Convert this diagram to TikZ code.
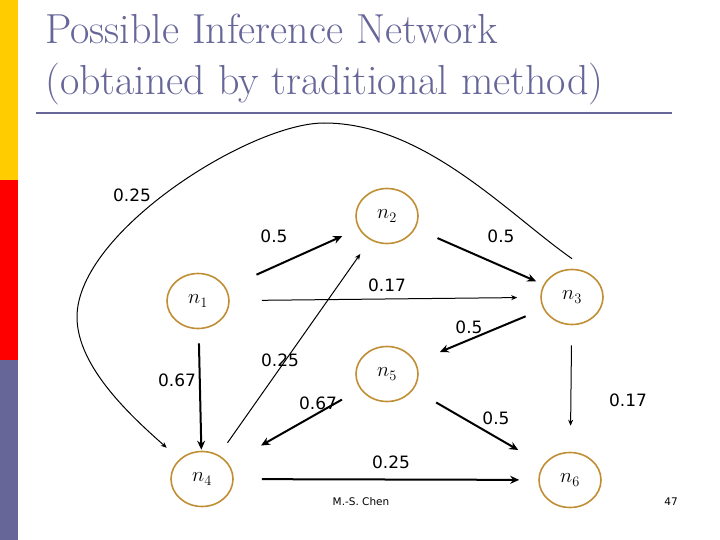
\documentclass[tikz,border=0pt]{standalone}
\usepackage{fontspec}
\newfontfamily\labelfont{DejaVu Sans}
\usetikzlibrary{arrows.meta}
\usetikzlibrary{shapes.geometric}
\definecolor{slate}{RGB}{102,102,153}
\definecolor{sideyellow}{RGB}{255,204,0}
\definecolor{sidered}{RGB}{255,0,0}
\definecolor{ringbrown}{RGB}{192,142,52}

\begin{document}
\begin{tikzpicture}[x=1pt,y=-1pt,
        state/.style={draw=ringbrown, line width=1.6pt, ellipse, minimum width=62pt, minimum height=55pt, inner sep=0pt, font=\fontsize{21}{21}\selectfont},
        weight/.style={font=\labelfont\fontsize{17}{17}\selectfont, inner sep=0pt},
        heavy/.style={black, line width=2pt, -{Stealth[length=9pt,width=8pt]}},
        light/.style={black, line width=1pt, -{Stealth[length=6pt,width=5pt]}}]
        \useasboundingbox (0,0) rectangle (720,540);
        % side bar and title
        \fill[sideyellow] (0,0) rectangle (18,180);
        \fill[sidered] (0,180) rectangle (18,360);
        \fill[slate] (0,360) rectangle (18,540);
        \node[anchor=base west, inner sep=0pt, text=slate, font=\fontsize{42}{42}\selectfont] (title1) at (45,44) {Possible Inference Network};
        \node[anchor=base west, inner sep=0pt, text=slate, font=\fontsize{42}{42}\selectfont] (title2) at (45,95) {(obtained by traditional method)};
        \draw[slate, line width=2pt] (36,113) -- (672,113);
        % nodes
        \node[state] (n1) at (198,301) {$n_1$};
        \node[state] (n2) at (387,216) {$n_2$};
        \node[state] (n3) at (572,297) {$n_3$};
        \node[state] (n4) at (202,479) {$n_4$};
        \node[state] (n5) at (387,374) {$n_5$};
        \node[state] (n6) at (570,480) {$n_6$};
        % edges
        \draw[heavy, shorten <=33pt, shorten >=18pt] (n1) -- (n2);
        \draw[heavy, shorten <=24pt, shorten >=8pt] (n2) -- (n3);
        \draw[light, shorten <=32pt, shorten >=23pt] (n1) -- (n3);
        \draw[heavy, shorten <=19pt, shorten >=26pt] (n3) -- (n5);
        \draw[heavy, shorten <=14pt, shorten >=1pt] (n1) -- (n4);
        \draw[light, shorten <=15pt, shorten >=17pt] (n4) -- (n2);
        \draw[heavy, shorten <=21pt, shorten >=37pt] (n5) -- (n4);
        \draw[heavy, shorten <=26pt, shorten >=29pt] (n5) -- (n6);
        \draw[light, shorten <=20pt, shorten >=26pt] (n3) -- (n6);
        \draw[heavy, shorten <=28pt, shorten >=19pt] (n4) -- (n6);
        \draw[light, shorten >=17pt] ([yshift=10pt]n3.north) .. controls (507,213) and (424,123) .. (324,123)
            .. controls (250,123) and (77,232) .. (77,317) .. controls (77,367) and (132,417) .. (n4);
        % weights
        \node[weight] (w34) at (132,195) {0.25};
        \node[weight] (w12) at (274,236) {0.5};
        \node[weight] (w23) at (501,236) {0.5};
        \node[weight] (w13) at (387,285) {0.17};
        \node[weight] (w35) at (469,327) {0.5};
        \node[weight] (w14) at (177,380) {0.67};
        \node[weight] (w42) at (280,360) {0.25};
        \node[weight] (w54) at (318,403) {0.67};
        \node[weight] (w56) at (496,418) {0.5};
        \node[weight] (w36) at (628,400) {0.17};
        \node[weight] (w46) at (391,462) {0.25};
        % footer
        \node[inner sep=0pt, font=\labelfont\fontsize{10.5}{10.5}\selectfont] (author) at (361,502) {M.-S. Chen};
        \node[inner sep=0pt, font=\labelfont\fontsize{10.5}{10.5}\selectfont] (page) at (671,502) {47};
\end{tikzpicture}
\end{document}
